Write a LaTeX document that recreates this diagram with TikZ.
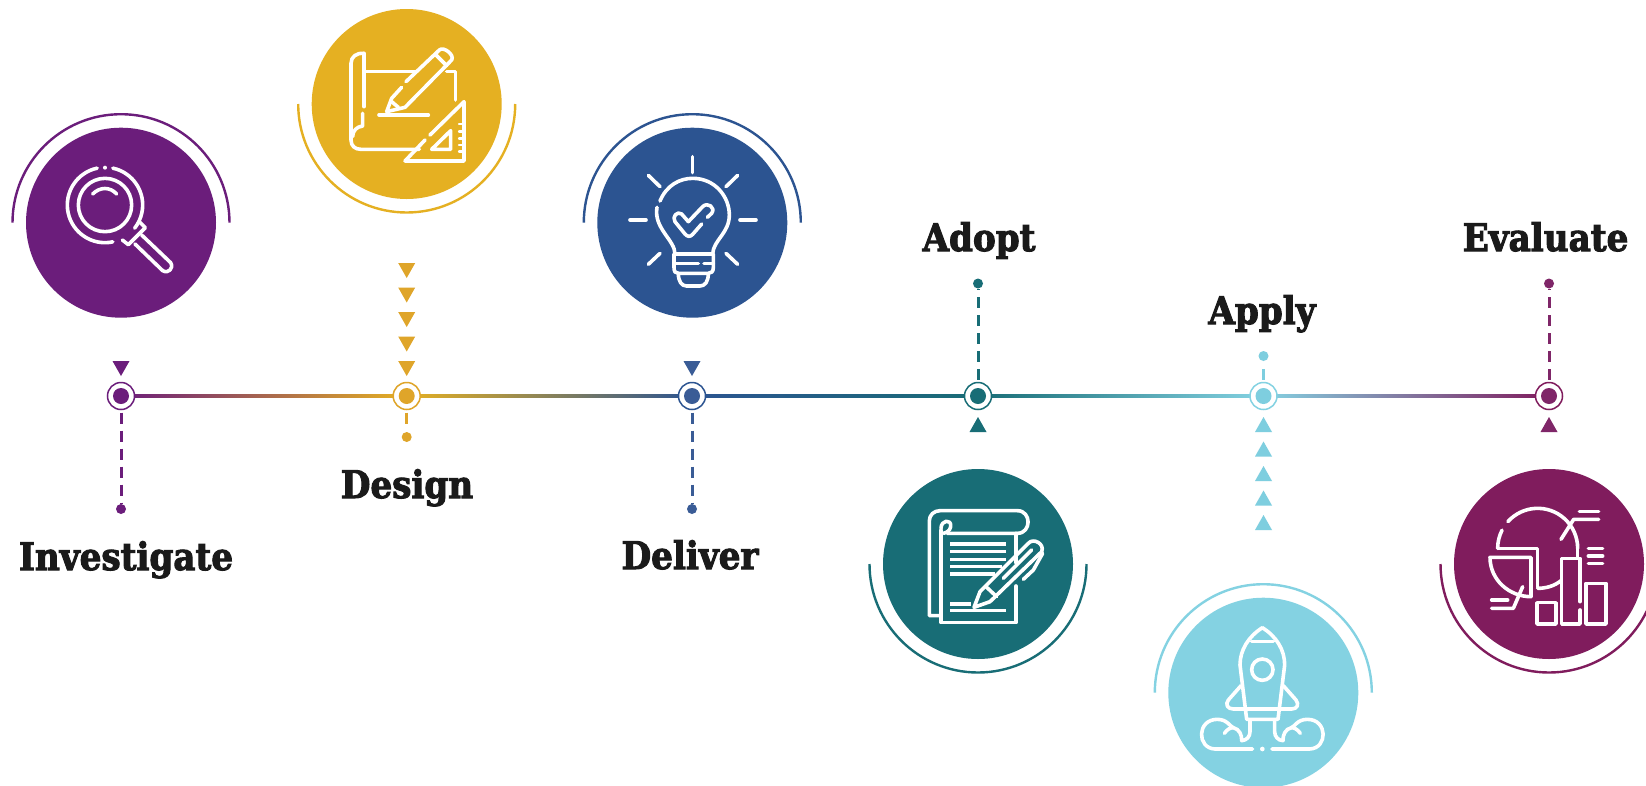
\documentclass[tikz,border=0pt]{standalone}
\usepackage{fontspec}
\setmainfont{DejaVu Serif}
\newfontfamily\slab[BoldFeatures={FakeBold=2.6}]{DejaVu Serif Condensed}
\usetikzlibrary{calc}
\definecolor{hueP}{HTML}{6B1D7B}
\definecolor{hueG}{HTML}{E5B022}
\definecolor{hueGd}{HTML}{DFA52A}
\definecolor{hueB}{HTML}{2C5491}
\definecolor{hueBd}{HTML}{3A5C96}
\definecolor{hueT}{HTML}{186D76}
\definecolor{hueL}{HTML}{84D2E2}
\definecolor{hueLd}{HTML}{7ECEDF}
\definecolor{hueM}{HTML}{801C5D}
\definecolor{hueMd}{HTML}{7F2668}
\definecolor{ink}{HTML}{1A1A1A}
\tikzset{
  disc/.style={circle,fill=#1,minimum size=190pt,inner sep=0pt,outer sep=0pt},
  ring/.style={circle,draw=#1,line width=1.5pt,fill=white,minimum size=27pt,inner sep=0pt,outer sep=0pt},
  core/.style={circle,fill=#1,minimum size=16pt,inner sep=0pt},
  tipdot/.style={circle,fill=#1,minimum size=10pt,inner sep=0pt,outer sep=0pt},
  halo/.style={draw=#1,line width=2.4pt},
  dashline/.style={draw=#1,line width=3pt,dash pattern=on 11pt off 7pt},
  lab/.style={font=\slab\fontsize{38}{38}\selectfont\bfseries,text=ink,inner sep=0pt,anchor=base},
  ic/.style={draw=white,line width=3.6pt,line cap=round,line join=round},
  zm/.style={x=0.33333pt,y=-0.33333pt},
}
\newcommand{\zarc}[5]{\draw[ic] (#1,#2) ++(#4:#3) arc[start angle=#4,end angle=#5,radius=#3];}
\newcommand{\tridn}[3]{\fill[#1] (#2-8.5,#3) -- (#2+8.5,#3) -- (#2,#3+15) -- cycle;}
\newcommand{\triup}[3]{\fill[#1] (#2-8.5,#3) -- (#2+8.5,#3) -- (#2,#3-15) -- cycle;}
\begin{document}
\begin{tikzpicture}[x=1pt,y=-1pt]
\useasboundingbox[fill=white] (0,0) rectangle (1646,785);
% timeline nodes
\coordinate (n1) at (121,396);
\coordinate (n2) at (406.7,396);
\coordinate (n3) at (692,396);
\coordinate (n4) at (978,396);
\coordinate (n5) at (1263.5,396);
\coordinate (n6) at (1549,396);
% gradient line
\fill[left color=hueP,right color=hueG] ($(n1)+(0,-1.1)$) rectangle ($(n2)+(0,1.1)$);
\fill[left color=hueG,right color=hueB] ($(n2)+(0,-1.1)$) rectangle ($(n3)+(0,1.1)$);
\fill[left color=hueB,right color=hueT] ($(n3)+(0,-1.1)$) rectangle ($(n4)+(0,1.1)$);
\fill[left color=hueT,right color=hueL] ($(n4)+(0,-1.1)$) rectangle ($(n5)+(0,1.1)$);
\fill[left color=hueL,right color=hueM] ($(n5)+(0,-1.1)$) rectangle ($(n6)+(0,1.1)$);
% rings
\node[ring=hueP] (r1) at (n1) {}; \node[core=hueP] at (n1) {};
\node[ring=hueGd] (r2) at (n2) {}; \node[core=hueGd] at (n2) {};
\node[ring=hueB] (r3) at (n3) {}; \node[core=hueBd] at (n3) {};
\node[ring=hueT] (r4) at (n4) {}; \node[core=hueT] at (n4) {};
\node[ring=hueL] (r5) at (n5) {}; \node[core=hueLd] at (n5) {};
\node[ring=hueM] (r6) at (n6) {}; \node[core=hueMd] at (n6) {};
% tip dots and dashes
\node[tipdot=hueP] (d1) at (121,509) {};
\node[tipdot=hueGd] (d2) at (406.7,437) {};
\node[tipdot=hueBd] (d3) at (692,509) {};
\node[tipdot=hueT] (d4) at (978,283.5) {};
\node[tipdot=hueLd] (d5) at (1263.5,356) {};
\node[tipdot=hueMd] (d6) at (1549,283.5) {};
\draw[dashline=hueP,shorten <=3pt] (r1.south) -- (d1);
\draw[dashline=hueGd,shorten <=3pt,shorten >=4pt] (r2.south) -- (d2);
\draw[dashline=hueBd,shorten <=3pt] (r3.south) -- (d3);
\draw[dashline=hueT,shorten <=3pt] (r4.north) -- (d4);
\draw[dashline=hueLd,shorten <=3pt,shorten >=4pt] (r5.north) -- (d5);
\draw[dashline=hueMd,shorten <=3pt] (r6.north) -- (d6);
% triangles
\tridn{hueP}{121}{361}
\foreach \y in {263,287.5,312,336.5,361}{\tridn{hueGd}{406.7}{\y}}
\tridn{hueBd}{692}{361}
\triup{hueT}{978}{432}
\foreach \y in {432,456.5,481,505.5,530}{\triup{hueLd}{1263.5}{\y}}
\triup{hueMd}{1549}{432}
% discs
\node[disc=hueP] (c1) at (121,222.7) {};
\node[disc=hueG] (c2) at (406.7,104) {};
\node[disc=hueB] (c3) at (692.3,222.7) {};
\node[disc=hueT] (c4) at (978,564) {};
\node[disc=hueL] (c5) at (1263.3,692.7) {};
\node[disc=hueM] (c6) at (1549,564) {};
% halos
\draw[halo=hueP] ($(c1)+(-108.5,0)$) arc[start angle=180,end angle=360,radius=108.5];
\draw[halo=hueG] ($(c2)+(-108.5,0)$) arc[start angle=180,end angle=0,radius=108.5];
\draw[halo=hueB] ($(c3)+(-108.5,0)$) arc[start angle=180,end angle=360,radius=108.5];
\draw[halo=hueT] ($(c4)+(-108.5,0)$) arc[start angle=180,end angle=0,radius=108.5];
\draw[halo=hueL] ($(c5)+(-108.5,0)$) arc[start angle=180,end angle=360,radius=108.5];
\draw[halo=hueM] ($(c6)+(-108.5,0)$) arc[start angle=180,end angle=0,radius=108.5];
% labels
\node[lab] (t1) at (126,570) {Investigate};
\node[lab] (t2) at (407,498) {Design};
\node[lab] (t3) at (690,569) {Deliver};
\node[lab] (t4) at (979,251) {Adopt};
\node[lab] (t5) at (1262,324) {Apply};
\node[lab] (t6) at (1545.5,251) {Evaluate};
% icon 1: magnifier
\begin{scope}[shift={(0,100)},zm]
\zarc{315}{315}{113}{-78}{38}
\zarc{315}{315}{113}{78}{258}
\draw[ic] (315,315) circle (80);
\fill[white] (315,203) circle (6);
\draw[ic] (278,282) .. controls (300,260) and (330,260) .. (350,282);
\draw[ic] (418,365) -- (436,383) -- (385,434) -- (367,420);
\draw[ic] (425,405) -- (512,488) .. controls (522,505) and (505,522) .. (488,512) -- (405,432);
\end{scope}
% icon 2: blueprint
\begin{scope}[shift={(290,0)},zm]
\draw[ic] (222,160) .. controls (200,158) and (183,170) .. (183,190) -- (183,420) .. controls (183,438) and (195,448) .. (213,448) -- (388,448);
\draw[ic] (222,160) -- (222,320);
\draw[ic] (218,340) -- (218,378) .. controls (200,380) and (188,392) .. (188,410);
\draw[ic] (225,215) -- (378,215);
\draw[ic] (470,215) -- (497,215) -- (497,300);
\draw[ic] (290,335) -- (305,295) -- (335,262);
\draw[ic] (348,245) -- (448,150) .. controls (460,138) and (495,165) .. (485,180) -- (345,322) -- (290,335);
\draw[ic] (438,165) -- (470,197);
\draw[ic] (305,305) -- (325,322);
\draw[ic] (267,345) -- (415,345);
\draw[ic] (405,420) -- (345,483) -- (522,483) -- (522,305) -- (420,405);
\draw[ic] (425,448) -- (482,448) -- (482,392) -- cycle;
\foreach \y in {372,395,415,435,455}{\draw[ic,line width=2.4pt] (522,\y) -- (507,\y);}
\end{scope}
% icon 3: bulb
\begin{scope}[shift={(570,100)},zm]
\draw[ic] (368,170) -- (368,218);
\draw[ic] (235,226) -- (270,260);
\draw[ic] (503,226) -- (468,260);
\draw[ic] (180,360) -- (228,360);
\draw[ic] (510,360) -- (558,360);
\draw[ic] (235,493) -- (270,460);
\draw[ic] (503,493) -- (468,460);
\draw[ic] (270,303) .. controls (290,255) and (330,235) .. (368,235) .. controls (435,235) and (478,290) .. (478,345) .. controls (478,400) and (430,420) .. (428,462);
\draw[ic] (261,322) .. controls (250,385) and (315,420) .. (315,462);
\draw[ic] (312,462) -- (430,462) -- (430,502) .. controls (430,515) and (424,520) .. (415,520) -- (325,520) .. controls (316,520) and (312,515) .. (312,502) -- cycle;
\draw[ic] (312,490) -- (385,490);
\draw[ic] (402,490) -- (430,490);
\draw[ic] (325,520) .. controls (325,545) and (335,558) .. (350,558) -- (390,558) .. controls (405,558) and (415,545) .. (415,520);
\draw[ic] (395,372) -- (368,403) .. controls (360,412) and (352,410) .. (345,402) -- (315,365) .. controls (305,350) and (322,332) .. (335,342) -- (355,365) -- (398,320) .. controls (412,305) and (438,322) .. (425,340) -- (412,352);
\end{scope}
% icon 4: scroll and pen
\begin{scope}[shift={(860,450)},zm]
\draw[ic] (237,497) -- (208,497) -- (208,212) .. controls (208,195) and (222,182) .. (240,182) -- (472,182) .. controls (515,182) and (515,250) .. (472,250) -- (262,250);
\draw[ic] (243,240) -- (243,518) -- (468,518) -- (468,408);
\draw[ic] (468,250) -- (468,338);
\draw[ic] (243,235) .. controls (243,210) and (275,205) .. (272,230) .. controls (270,242) and (260,248) .. (250,250);
\foreach \y/\e in {282/438,305/438,328/438,350/425,372/405,482/438}{\draw[ic,line cap=butt] (270,\y) -- (\e,\y);}
\draw[ic,line cap=butt] (270,462) -- (332,462);
\draw[ic] (342,472) -- (360,425) -- (505,280) .. controls (520,262) and (555,282) .. (545,305) -- (390,455) -- cycle;
\draw[ic] (378,410) -- (410,440);
\draw[ic] (430,385) -- (515,300);
\draw[ic] (548,310) -- (520,360) -- (490,388);
\end{scope}
% icon 5: rocket
\begin{scope}[shift={(1140,585)},zm]
\draw[ic] (367,128) .. controls (325,155) and (300,195) .. (300,240) -- (320,403) -- (414,403) -- (434,240) .. controls (434,195) and (410,155) .. (367,128);
\draw[ic] (335,170) -- (400,170);
\draw[ic] (367,254) circle (32);
\draw[ic] (303,302) -- (265,345) .. controls (255,358) and (262,372) .. (280,372) -- (455,372) .. controls (472,372) and (478,358) .. (468,345) -- (430,302);
\draw[ic] (338,492) -- (225,492) .. controls (170,490) and (170,403) .. (232,403) .. controls (262,403) and (270,425) .. (280,428) .. controls (298,432) and (306,450) .. (305,467) .. controls (320,466) and (330,455) .. (330,440) -- (330,405);
\draw[ic] (253,445) .. controls (262,432) and (272,428) .. (280,428);
\draw[ic] (396,492) -- (509,492) .. controls (564,490) and (564,403) .. (502,403) .. controls (472,403) and (464,425) .. (454,428) .. controls (436,432) and (428,450) .. (429,467) .. controls (414,466) and (404,455) .. (404,440) -- (404,405);
\draw[ic] (481,445) .. controls (472,432) and (462,428) .. (454,428);
\fill[white] (367,492) circle (7);
\end{scope}
% icon 6: charts
\begin{scope}[shift={(1426,450)},zm]
\zarc{335}{295}{120}{-138}{0}
\zarc{335}{295}{120}{180}{207}
\draw[ic] (455,295) -- (455,320);
\draw[ic] (215,295) -- (335,295) -- (335,412);
\draw[ic] (335,415) .. controls (360,415) and (385,408) .. (405,392);
\draw[ic] (192,322) -- (315,322) -- (315,440) .. controls (250,440) and (192,390) .. (192,322) -- cycle;
\draw[ic] (290,410) -- (262,475) -- (197,475);
\draw[ic] (197,450) -- (245,450);
\draw[ic] (405,268) -- (443,208) -- (518,208);
\draw[ic] (460,185) -- (518,185);
\foreach \y in {295,318,340}{\draw[ic] (487,\y) -- (530,\y);}
\draw[ic] (333,522) -- (333,458) -- (390,458) -- (390,522) -- cycle;
\draw[ic] (462,455) -- (462,325) -- (407,325) -- (407,522) -- (462,522) -- (462,480);
\draw[ic] (480,522) -- (480,400) -- (540,400) -- (540,522) -- cycle;
\end{scope}
\end{tikzpicture}
\end{document}
